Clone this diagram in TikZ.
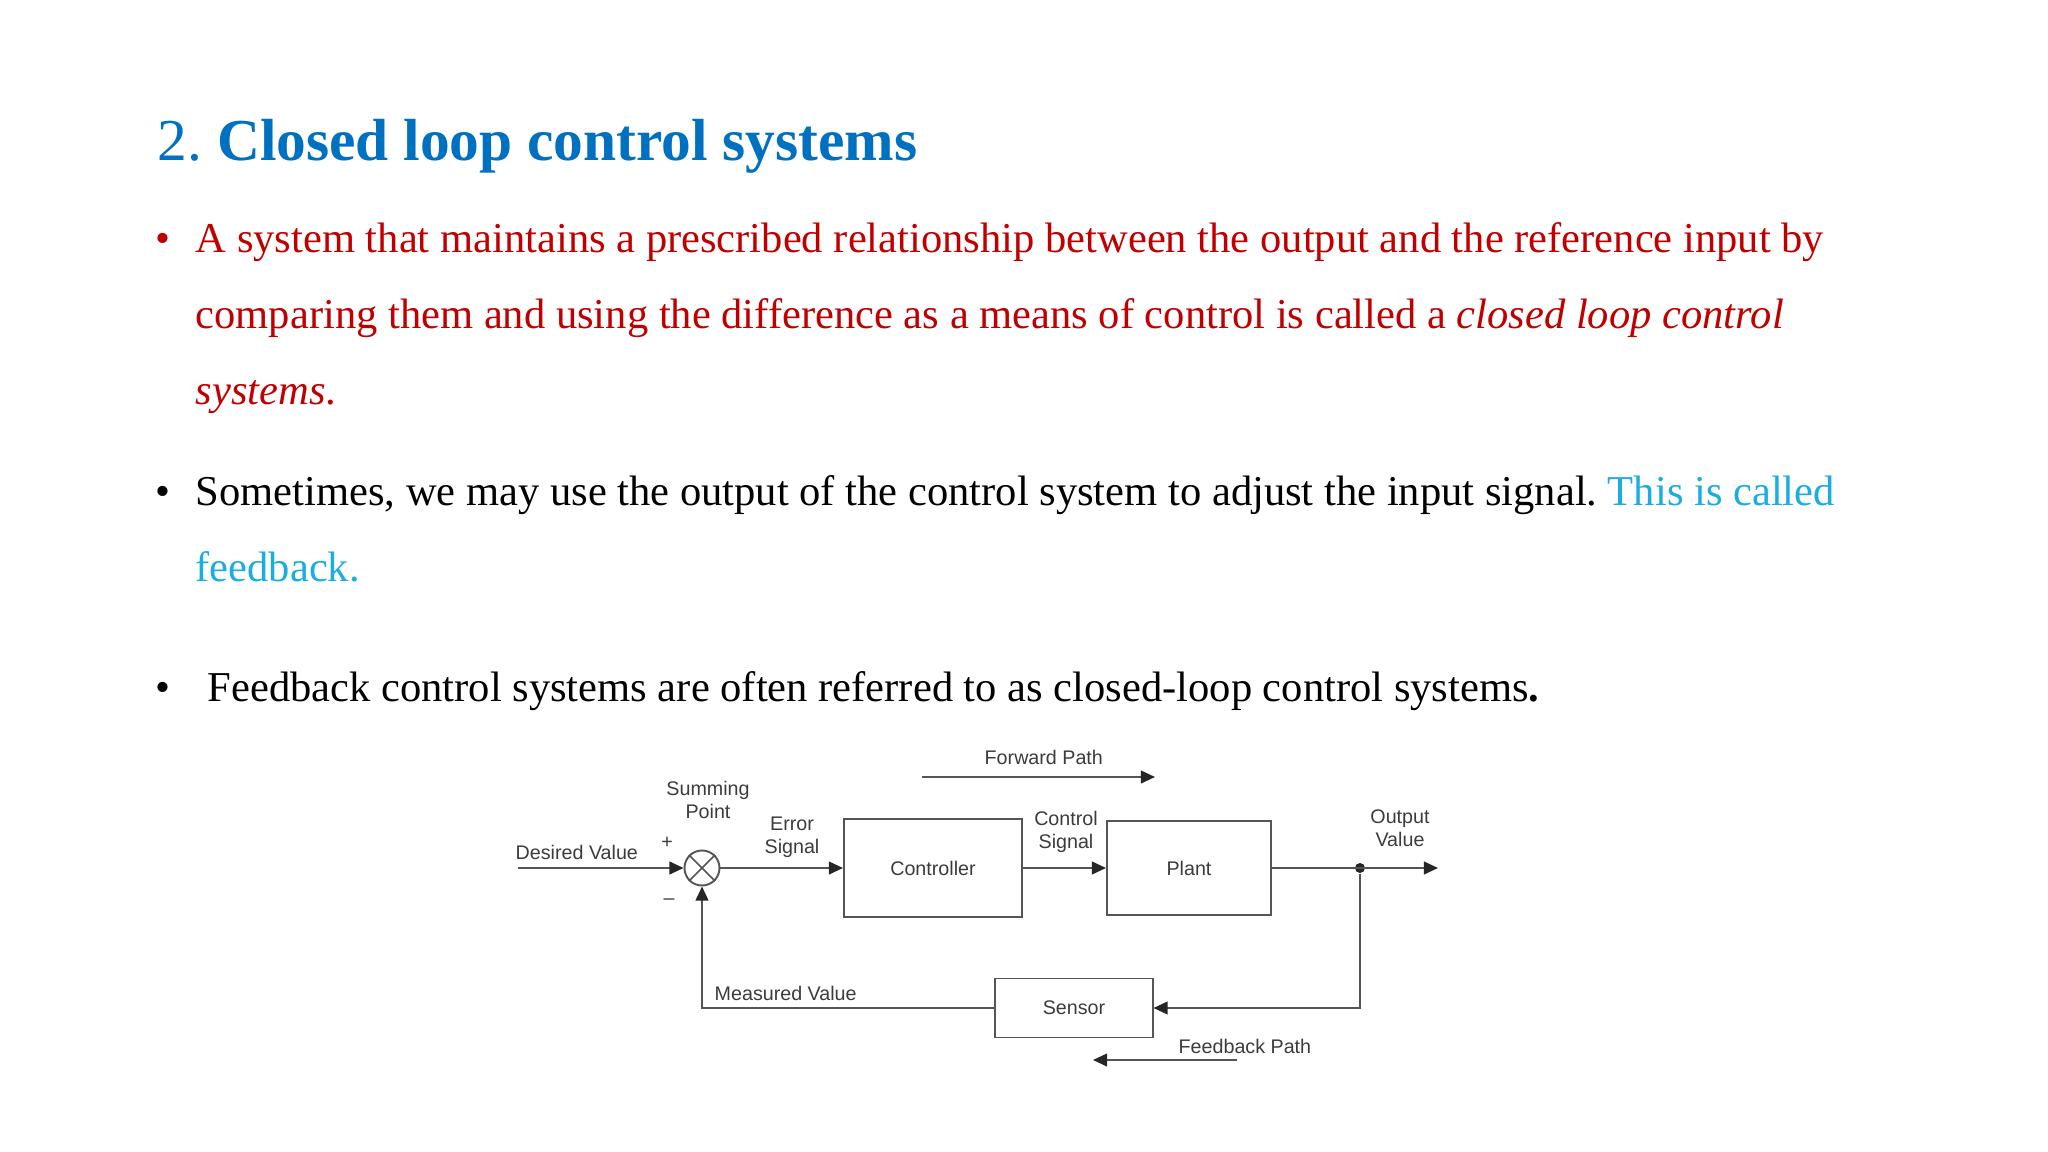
\documentclass[tikz,border=0pt]{standalone}
\usepackage{fontspec}
\setmainfont{Liberation Serif}
\setsansfont{Liberation Sans}
\usetikzlibrary{arrows.meta}
\definecolor{titleblue}{HTML}{0070C0}
\definecolor{textred}{HTML}{C00000}
\definecolor{linkcyan}{HTML}{1AADE4}
\definecolor{diagline}{HTML}{555555}
\definecolor{diagtext}{HTML}{3C3C3C}

\begin{document}
\frenchspacing
\begin{tikzpicture}[x=0.01cm,y=-0.01cm,
    body/.style={anchor=base west,inner sep=0pt,font=\fontsize{12.1}{14}\selectfont},
    bullet/.style={anchor=base,inner sep=0pt,font=\fontsize{12.1}{14}\selectfont},
    tag/.style={inner sep=0pt,text=diagtext,align=center,font=\sffamily\fontsize{5.6}{6.54}\selectfont},
    block/.style={draw=diagline,line width=0.55pt,inner sep=0pt,text=diagtext,font=\sffamily\fontsize{5.6}{6.54}\selectfont},
    wire/.style={draw=diagline,line width=0.55pt},
    sig/.style={wire,-{Triangle[length=4pt,width=3.6pt,color=black!85]}}
]
    \useasboundingbox[fill=white] (0,0) rectangle (2048,1152);
    \node[anchor=base west,inner sep=0pt,text=titleblue,font=\fontsize{16.9}{20}\selectfont] (title) at (157,161) {2. \textbf{Closed loop control systems}};

    \node[bullet,text=textred] (b1) at (163,253) {•};
    \node[body,text=textred] (l1) at (195,253) {A system that maintains a prescribed relationship between the output and the reference input by};
    \node[body,text=textred] (l2) at (195,329) {comparing them and using the difference as a means of control is called a \textit{closed loop control}};
    \node[body,text=textred] (l3) at (195,405) {\textit{systems}.};
    \node[bullet] (b2) at (163,505) {•};
    \node[body] (l4) at (195,505) {Sometimes, we may use the output of the control system to adjust the input signal. \textcolor{linkcyan}{This is called}};
    \node[body,text=linkcyan] (l5) at (195,582) {feedback.};
    \node[bullet] (b3) at (163,702) {•};
    \node[body] (l6) at (207,702) {Feedback control systems are often referred to as closed-loop control systems\textbf{.}};

    \node[wire,circle,minimum size=0.35cm,inner sep=0pt] (sum) at (702,868) {};
    \draw[wire,line width=0.45pt] (sum.45) -- (sum.225) (sum.135) -- (sum.315);
    \node[block,minimum width=1.78cm,minimum height=0.98cm] (ctrl) at (933,868) {Controller};
    \node[block,minimum width=1.64cm,minimum height=0.94cm] (plant) at (1189,868) {Plant};
    \node[block,minimum width=1.57cm,minimum height=0.59cm] (sensor) at (1074,1008) {Sensor};
    \node[circle,fill=black!85,inner sep=0pt,minimum size=0.1cm] (split) at (1360,868) {};
    \coordinate (desired) at (518,868);
    \coordinate (outend) at (1438,868);
    \coordinate (fwdA) at (922,777);
    \coordinate (fwdB) at (1155,777);
    \coordinate (fbA) at (1237,1060);
    \coordinate (fbB) at (1093,1060);

    \draw[sig] (desired) -- (sum);
    \draw[sig] (sum) -- (ctrl);
    \draw[sig] (ctrl) -- (plant);
    \draw[sig] (plant) -- (outend);
    \draw[sig] (split) |- (sensor);
    \draw[sig] (sensor) -| (sum);
    \draw[sig] (fwdA) -- (fwdB);
    \draw[sig] (fbA) -- (fbB);

    \node[tag,anchor=base west] (desiredlbl) at (515,859) {Desired Value};
    \node[tag] (plus) at (667,843) {+};
    \node[tag] (minus) at (669,902) {–};
    \node[tag] (sumlbl) at (708,800) {Summing\\Point};
    \node[tag] (errlbl) at (792,837) {Error\\Signal};
    \node[tag] (ctrllbl) at (1066,832) {Control\\Signal};
    \node[tag] (outlbl) at (1400,828) {Output\\Value};
    \node[tag,anchor=base west] (fwdlbl) at (984,764) {Forward Path};
    \node[tag,anchor=base west] (measlbl) at (714,1000) {Measured Value};
    \node[tag,anchor=base west] (fblbl) at (1178,1053) {Feedback Path};
\end{tikzpicture}
\end{document}
